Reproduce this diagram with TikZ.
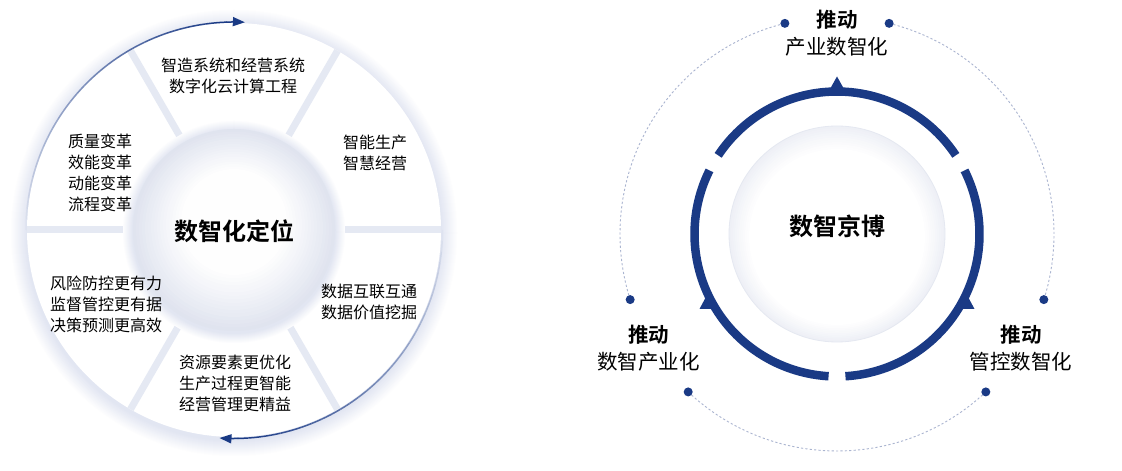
\documentclass[tikz,border=0pt]{standalone}
\usepackage{fontspec}
\setmainfont{Noto Sans CJK SC}[BoldFont={* Bold}]
\usetikzlibrary{arrows.meta}
\definecolor{navy}{RGB}{26,58,133}
\definecolor{arclight}{RGB}{228,232,243}
\definecolor{gapc}{RGB}{229,233,243}
\definecolor{glowc}{RGB}{226,230,242}
\definecolor{dotline}{RGB}{170,181,208}
\definecolor{innerrim}{RGB}{224,228,239}
\definecolor{rimR}{RGB}{238,240,246}
\definecolor{rimline}{RGB}{229,232,241}
\tikzset{
  sectortext/.style={align=center, font=\fontsize{16}{21}\selectfont, inner sep=0pt},
  hubtext/.style={font=\fontsize{24}{28}\selectfont\bfseries, inner sep=0pt},
  labbold/.style={font=\fontsize{20.5}{24}\selectfont\bfseries, inner sep=0pt},
  labtext/.style={font=\fontsize{20.5}{24}\selectfont, inner sep=0pt},
  ring/.style={draw=navy, line width=8.5pt},
  dotarc/.style={draw=dotline, line width=0.9pt, dash pattern=on 2.2pt off 2.2pt},
  dotmark/.style={circle, fill=navy, minimum size=9pt, inner sep=0pt},
  gapline/.style={draw=gapc, line width=7pt},
  arrowtip/.style={draw=navy, line width=1.5pt, -{Triangle[length=12pt,width=9pt]}},
}
\begin{document}
\begin{tikzpicture}[x=1pt,y=1pt]
\fill[white] (0,0) rectangle (1122,471);
\useasboundingbox (0,0) rectangle (1122,471);

% ---------------- left diagram ----------------
\coordinate (L) at (234,241);
% soft outer glow
\foreach \k in {0,...,15}{
  \pgfmathtruncatemacro\p{(\k+1)*100/16}
  \fill[glowc!\p!white] ([yshift=-3]L) circle[radius=223-\k];
}
\fill[white] (L) circle[radius=207];
\foreach \t in {0,60,...,300}{
  \draw[gapline] (L) -- ([shift={(\t:207)}]L);
}
% glow round the hub
\foreach \k in {0,...,9}{
  \pgfmathtruncatemacro\p{(\k+1)*10}
  \fill[glowc!\p!white] ([yshift=-2]L) circle[radius=111-\k];
}
% hub disc: rim to white centre
\foreach \k in {0,...,16}{
  \pgfmathtruncatemacro\p{100-\k*6}
  \fill[innerrim!\p!white] ([yshift=\k*0.5]L) circle[radius=101-\k*3];
}

% gradient arrows
\foreach \i in {0,...,29}{
  \pgfmathsetmacro\sa{180-\i*88/30}
  \pgfmathsetmacro\ea{180-(\i+1)*88/30}
  \pgfmathtruncatemacro\p{(\i+1)*100/30}
  \draw[navy!\p!arclight, line width=1.5pt] ([shift={(\sa:208)}]L) arc[start angle=\sa, end angle=\ea, radius=208];
}
\draw[arrowtip] ([shift={(92.2:208)}]L) arc[start angle=92.2, end angle=87, radius=208];
\foreach \i in {0,...,29}{
  \pgfmathsetmacro\sa{0-\i*89/30}
  \pgfmathsetmacro\ea{0-(\i+1)*89/30}
  \pgfmathtruncatemacro\p{(\i+1)*100/30}
  \draw[navy!\p!arclight, line width=1.5pt] ([shift={(\sa:208.5)}]L) arc[start angle=\sa, end angle=\ea, radius=208.5];
}
\draw[arrowtip] ([shift={(-88.8:208.5)}]L) arc[start angle=-88.8, end angle=-94, radius=208.5];

\node[hubtext] (hubL) at (234,240) {数智化定位};
\node[sectortext] (s1) at (233,395) {智造系统和经营系统\\数字化云计算工程};
\node[sectortext] (s2) at (375,318.5) {智能生产\\智慧经营};
\node[sectortext] (s3) at (369,169) {数据互联互通\\数据价值挖掘};
\node[sectortext] (s4) at (235,87.5) {资源要素更优化\\生产过程更智能\\经营管理更精益};
\node[sectortext] (s5) at (106,167) {风险防控更有力\\监督管控更有据\\决策预测更高效};
\node[sectortext] (s6) at (100,298.5) {质量变革\\效能变革\\动能变革\\流程变革};

% ---------------- right diagram ----------------
\coordinate (C) at (837,237);
\draw[dotarc] ([shift={(76.1:217)}]C) arc[start angle=76.1, end angle=-17.6, radius=217];
\draw[dotarc] ([shift={(-46.7:217)}]C) arc[start angle=-46.7, end angle=-133.3, radius=217];
\draw[dotarc] ([shift={(197.6:217)}]C) arc[start angle=197.6, end angle=103.9, radius=217];
\node[dotmark] (d1) at ([shift={(103.9:217)}]C) {};
\node[dotmark] (d2) at ([shift={(76.1:217)}]C) {};
\node[dotmark] (d3) at ([shift={(-17.6:217)}]C) {};
\node[dotmark] (d4) at ([shift={(-46.7:217)}]C) {};
\node[dotmark] (d5) at ([shift={(-133.3:217)}]C) {};
\node[dotmark] (d6) at ([shift={(197.6:217)}]C) {};

\foreach \k in {0,...,10}{
  \pgfmathtruncatemacro\p{100-\k*10}
  \fill[rimR!\p!white] ([shift={(0,-\k*0.3)}]C) circle[radius=108-\k*2];
}
\draw[rimline, line width=0.8pt] (C) circle[radius=108];

\draw[ring] ([shift={(33.5:142.5)}]C) arc[start angle=33.5, end angle=146.5, radius=142.5];
\draw[ring] ([shift={(153.5:142.5)}]C) arc[start angle=153.5, end angle=266.6, radius=142.5];
\draw[ring] ([shift={(273.4:142.5)}]C) arc[start angle=273.4, end angle=386.5, radius=142.5];
\fill[navy] (830,382) -- (837,394.5) -- (844,382) -- cycle;
\fill[navy] (699.5,162) -- (707,176) -- (715.5,162) -- cycle;
\fill[navy] (958.5,162) -- (967,176) -- (974.5,162) -- cycle;

\node[hubtext] (hubR) at (837,245) {数智京博};
\node[labbold] (t1) at (837,451) {推动};
\node[labtext] (t2) at (837,424) {产业数智化};
\node[labbold] (l1) at (648.5,136) {推动};
\node[labtext] (l2) at (648.5,109) {数智产业化};
\node[labbold] (r1) at (1021,136) {推动};
\node[labtext] (r2) at (1021,109) {管控数智化};
\end{tikzpicture}
\end{document}
